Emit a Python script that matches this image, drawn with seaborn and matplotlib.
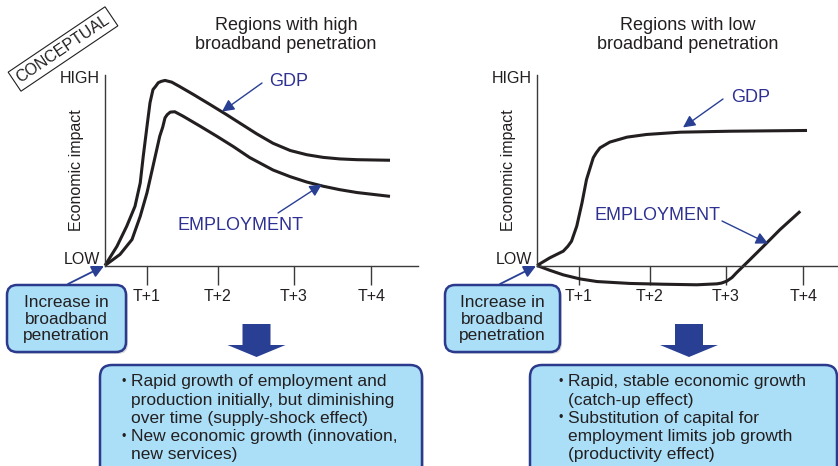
import matplotlib
matplotlib.use("Agg")
import matplotlib.pyplot as plt
import seaborn as sns
from matplotlib.patches import FancyBboxPatch, Polygon

sns.set_style("white")
plt.rcParams['font.family'] = ['Liberation Sans', 'DejaVu Sans']

# x: time since broadband increase, y: economic impact (LOW = 0, HIGH = 10)
tick_pos = [0.56, 1.5, 2.52, 3.55]
tick_labels = ['T+1', 'T+2', 'T+3', 'T+4']

high_gdp_x = [0, 0.16, 0.29, 0.40, 0.47, 0.51, 0.56, 0.60, 0.62, 0.64, 0.675, 0.71, 0.75,
              0.80, 0.89, 1.00, 1.18, 1.40, 1.62, 1.80, 2.02, 2.24, 2.47, 2.69, 2.91, 3.13,
              3.36, 3.80]
high_gdp_y = [0, 1.01, 2.06, 3.10, 4.33, 5.72, 7.29, 8.52, 8.87, 9.21, 9.38, 9.57, 9.64,
              9.69, 9.60, 9.36, 8.95, 8.43, 7.90, 7.45, 6.90, 6.40, 6.02, 5.80, 5.66, 5.58,
              5.54, 5.51]
high_emp_x = [0, 0.20, 0.36, 0.47, 0.56, 0.64, 0.73, 0.77, 0.80, 0.83, 0.87, 0.93, 1.04,
              1.27, 1.49, 1.71, 1.93, 2.24, 2.47, 2.69, 2.91, 3.13, 3.36, 3.80]
high_emp_y = [0, 0.58, 1.36, 2.58, 3.81, 5.20, 6.77, 7.25, 7.73, 7.90, 8.03, 8.05, 7.82,
              7.29, 6.77, 6.23, 5.65, 5.00, 4.65, 4.37, 4.15, 3.97, 3.82, 3.62]

low_gdp_x = [0, 0.17, 0.35, 0.41, 0.46, 0.53, 0.60, 0.66, 0.75, 0.79, 0.84, 0.97, 1.20,
             1.46, 1.91, 2.57, 3.60]
low_gdp_y = [0, 0.40, 0.75, 1.00, 1.27, 2.06, 3.28, 4.50, 5.64, 5.90, 6.16, 6.46, 6.72,
             6.86, 6.98, 7.03, 7.07]
low_emp_x = [0, 0.17, 0.35, 0.57, 0.80, 1.24, 1.68, 2.13, 2.40, 2.46, 2.53, 2.60, 2.66,
             2.84, 3.02, 3.24, 3.51]
low_emp_y = [0, -0.25, -0.49, -0.70, -0.84, -0.94, -0.98, -1.01, -0.96, -0.92, -0.82,
             -0.63, -0.38, 0.31, 1.01, 1.88, 2.84]

titles = ["Regions with high\nbroadband penetration", "Regions with low\nbroadband penetration"]
start_text = "Increase in\nbroadband\npenetration"
left_lines = ["Rapid growth of employment and", "production initially, but diminishing",
              "over time (supply-shock effect)", "New economic growth (innovation,",
              "new services)"]
left_bullets = [0, 3]
right_lines = ["Rapid, stable economic growth", "(catch-up effect)",
               "Substitution of capital for", "employment limits job growth",
               "(productivity effect)"]
right_bullets = [0, 2]

INK = '#231f20'
NAVY = '#2e3192'
BOX_FACE = '#abdff7'
BOX_EDGE = '#2b3a8c'
ARROW_BLUE = '#283f94'

W, H = 838, 466
PX_X, PX_Y = 75, 19.1
XLIM = (-0.3, 4.4)
YLIM = (-1.6, 10.3)

fig = plt.figure(figsize=(W / 100, H / 100), dpi=100)

# background axes in pixel units for boxes, titles and arrows
bg = fig.add_axes([0, 0, 1, 1])
bg.set_xlim(0, W)
bg.set_ylim(H, 0)
bg.axis('off')


def add_panel(ox, oy, xmax):
    left = ox + XLIM[0] * PX_X
    right = ox + XLIM[1] * PX_X
    top = oy - YLIM[1] * PX_Y
    bottom = oy - YLIM[0] * PX_Y
    ax = fig.add_axes([left / W, 1 - bottom / H, (right - left) / W, (bottom - top) / H])
    ax.patch.set_visible(False)
    ax.set_xlim(*XLIM)
    ax.set_ylim(*YLIM)
    for s in ['top', 'right']:
        ax.spines[s].set_visible(False)
    ax.spines['left'].set_position(('data', 0))
    ax.spines['bottom'].set_position(('data', 0))
    ax.spines['left'].set_bounds(0, 10)
    ax.spines['bottom'].set_bounds(0, xmax)
    for s in ['left', 'bottom']:
        ax.spines[s].set_color('#3a3a3a')
        ax.spines[s].set_linewidth(1.0)
    ax.set_yticks([])
    ax.set_xticks(tick_pos, tick_labels)
    ax.tick_params(axis='x', direction='out', length=13.7, width=1.0, color='#3a3a3a',
                   pad=3, labelsize=11.5, labelcolor=INK, bottom=True)
    ax.text(-0.07, 9.8, 'HIGH', ha='right', va='center', fontsize=11.5, color=INK)
    ax.text(-0.07, 0.3, 'LOW', ha='right', va='center', fontsize=11.5, color=INK)
    ax.text(-0.38, 5.0, 'Economic impact', rotation=90, ha='center', va='center',
            fontsize=11.5, color=INK)
    return ax


def curve(ax, xs, ys):
    sns.lineplot(x=xs, y=ys, ax=ax, color=INK, linewidth=2.2, sort=False,
                 solid_joinstyle='round', solid_capstyle='butt')


def label_arrow(ax, text, text_px, tip, start_px):
    bg.text(text_px[0], text_px[1], text, ha='center', va='center', fontsize=13, color=NAVY)
    ax.annotate('', xy=tip, xycoords='data',
                xytext=(start_px[0] / W, 1 - start_px[1] / H), textcoords='figure fraction',
                arrowprops=dict(arrowstyle='-|>', color=ARROW_BLUE, lw=1.0,
                                mutation_scale=18, shrinkA=0, shrinkB=0))


def box(x0, y0, x1, y1, r):
    shadow = FancyBboxPatch((x0 + 2, y0 + 2), x1 - x0, y1 - y0,
                            boxstyle=f'round,pad=0,rounding_size={r}',
                            fc='#9a9a9a', ec='none', alpha=0.35, zorder=1)
    bg.add_patch(shadow)
    p = FancyBboxPatch((x0, y0), x1 - x0, y1 - y0, boxstyle=f'round,pad=0,rounding_size={r}',
                       fc=BOX_FACE, ec=BOX_EDGE, lw=1.8, zorder=2)
    bg.add_patch(p)


def down_arrow(cx):
    pts = [(cx - 14, 324), (cx + 14, 324), (cx + 14, 345), (cx + 29, 345), (cx, 357),
           (cx - 29, 345), (cx - 14, 345)]
    bg.add_patch(Polygon(pts, closed=True, fc=ARROW_BLUE, ec='none', zorder=3))


def bullet_box(lines, bullets, tx):
    for i, line in enumerate(lines):
        y = 381.7 + i * 18.3
        bg.text(tx, y, line, ha='left', va='center', fontsize=12.5, color=INK, zorder=4)
        if i in bullets:
            bg.text(tx - 9, y, '•', ha='left', va='center', fontsize=9, color=INK, zorder=4)


# left panel: high broadband penetration
ax1 = add_panel(105, 265.5, 4.17)
curve(ax1, high_gdp_x, high_gdp_y)
curve(ax1, high_emp_x, high_emp_y)
label_arrow(ax1, 'GDP', (289, 81), (1.56, 8.06), (262, 83))
label_arrow(ax1, 'EMPLOYMENT', (240, 226), (2.89, 4.24), (278, 213))

# right panel: low broadband penetration
ax2 = add_panel(537, 265.5, 4.1)
curve(ax2, low_gdp_x, low_gdp_y)
curve(ax2, low_emp_x, low_emp_y)
label_arrow(ax2, 'GDP', (751, 98), (1.947, 7.23), (723, 99))
label_arrow(ax2, 'EMPLOYMENT', (657, 215), (3.08, 1.15), (722, 221))

bg.text(286, 35, titles[0], ha='center', va='center', fontsize=13, color=INK, linespacing=1.1)
bg.text(688, 35, titles[1], ha='center', va='center', fontsize=13, color=INK, linespacing=1.1)

bg.text(63, 49, 'CONCEPTUAL', rotation=34, rotation_mode='anchor', ha='center', va='center',
        fontsize=11.5, color=INK,
        bbox=dict(boxstyle='square,pad=0.25', fc='white', ec=INK, lw=0.8))

# start boxes and their arrows to the origin
box(7, 285, 126, 352, 10)
bg.text(66.5, 319, start_text, ha='center', va='center', fontsize=12.4, color=INK,
        linespacing=1.1, zorder=4)
box(445, 285, 560, 352, 10)
bg.text(502.5, 319, start_text, ha='center', va='center', fontsize=12.4, color=INK,
        linespacing=1.1, zorder=4)
for sx, ox in [(68, 105), (500, 537)]:
    bg.annotate('', xy=(ox - 1, 266), xytext=(sx, 284),
                arrowprops=dict(arrowstyle='-|>', color=ARROW_BLUE, lw=1.3,
                                mutation_scale=18, shrinkA=0, shrinkB=0), zorder=5)

down_arrow(256.5)
down_arrow(689)

box(100, 365, 422, 490, 12)
bullet_box(left_lines, left_bullets, 130.7)
box(530, 365, 837, 490, 12)
bullet_box(right_lines, right_bullets, 567.7)

fig.savefig('out.png', dpi=100)
